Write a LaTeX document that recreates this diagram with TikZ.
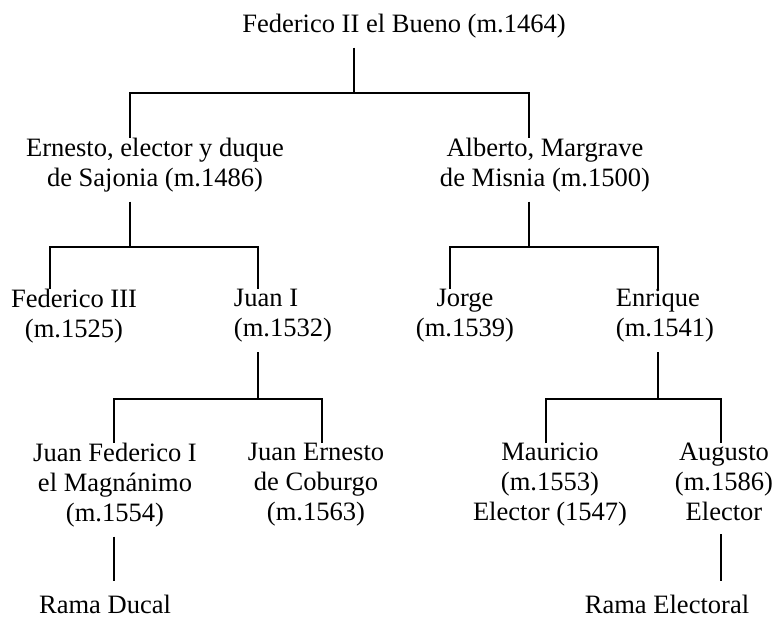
\documentclass[tikz,border=0pt]{standalone}
\usepackage{fontspec}
\setmainfont{Liberation Serif}

\begin{document}
\begin{tikzpicture}[
    x=0.75pt, y=-0.75pt,
    every node/.style={font=\fontsize{19.9}{22.5}\selectfont},
    person/.style={inner sep=0pt, align=center},
    link/.style={line width=1.4pt},
    drop/.style={link, shorten <=7pt}
]
    \useasboundingbox (0,0) rectangle (776,617);

    \node[person] (federico2) at (404,26) {Federico II el Bueno (m.1464)};

    \node[person] (ernesto) at (155,165) {Ernesto, elector y duque\\de Sajonia (m.1486)};
    \node[person] (alberto) at (545,165) {Alberto, Margrave\\de Misnia (m.1500)};

    \node[person] (federico3) at (74,316) {Federico III\\(m.1525)};
    \node[person, align=left] (juan1) at (283,316) {Juan I\\(m.1532)};
    \node[person] (jorge) at (465,316) {Jorge\\(m.1539)};
    \node[person, align=left] (enrique) at (665,316) {Enrique\\(m.1541)};

    \node[person] (juanfed) at (115,485) {Juan Federico I\\el Magnánimo\\(m.1554)};
    \node[person] (juanern) at (316,485) {Juan Ernesto\\de Coburgo\\(m.1563)};
    \node[person] (mauricio) at (550,485) {Mauricio\\(m.1553)\\Elector (1547)};
    \node[person] (augusto) at (724,482) {Augusto\\(m.1586)\\Elector};

    \node[person] (ducal) at (105,604) {Rama Ducal};
    \node[person] (electoral) at (667,604) {Rama Electoral};

    % bus junctions
    \coordinate (j0) at (354,93);
    \coordinate (e0) at (130,93);
    \coordinate (a0) at (529,93);
    \coordinate (e1) at (130,247);
    \coordinate (f1) at (50,247);
    \coordinate (j1) at (258,247);
    \coordinate (a1) at (529,247);
    \coordinate (g1) at (450,247);
    \coordinate (h1) at (658,247);
    \coordinate (j2) at (258,399);
    \coordinate (f2) at (114,399);
    \coordinate (c2) at (322,399);
    \coordinate (h2) at (658,399);
    \coordinate (m2) at (546,399);
    \coordinate (u2) at (721,399);

    % Federico II
    \draw[drop] (federico2.south -| j0) -- (j0);
    \draw[link] (ernesto.north -| e0) -- (e0) -- (a0) -- (alberto.north -| a0);

    % Ernesto
    \draw[drop] (ernesto.south -| e1) -- (e1);
    \draw[link] (federico3.north -| f1) -- (f1) -- (j1) -- (juan1.north -| j1);

    % Alberto
    \draw[drop] (alberto.south -| a1) -- (a1);
    \draw[link] (jorge.north -| g1) -- (g1) -- (h1) -- (enrique.north -| h1);

    % Juan I
    \draw[drop] (juan1.south -| j2) -- (j2);
    \draw[link] (juanfed.north -| f2) -- (f2) -- (c2) -- (juanern.north -| c2);

    % Enrique
    \draw[drop] (enrique.south -| h2) -- (h2);
    \draw[link] (mauricio.north -| m2) -- (m2) -- (u2) -- (augusto.north -| u2);

    % ramas
    \draw[drop, shorten >=10pt] (juanfed.south -| f2) -- (ducal.north -| f2);
    \draw[drop, shorten <=10pt, shorten >=10pt] (augusto.south -| u2) -- (electoral.north -| u2);
\end{tikzpicture}
\end{document}
